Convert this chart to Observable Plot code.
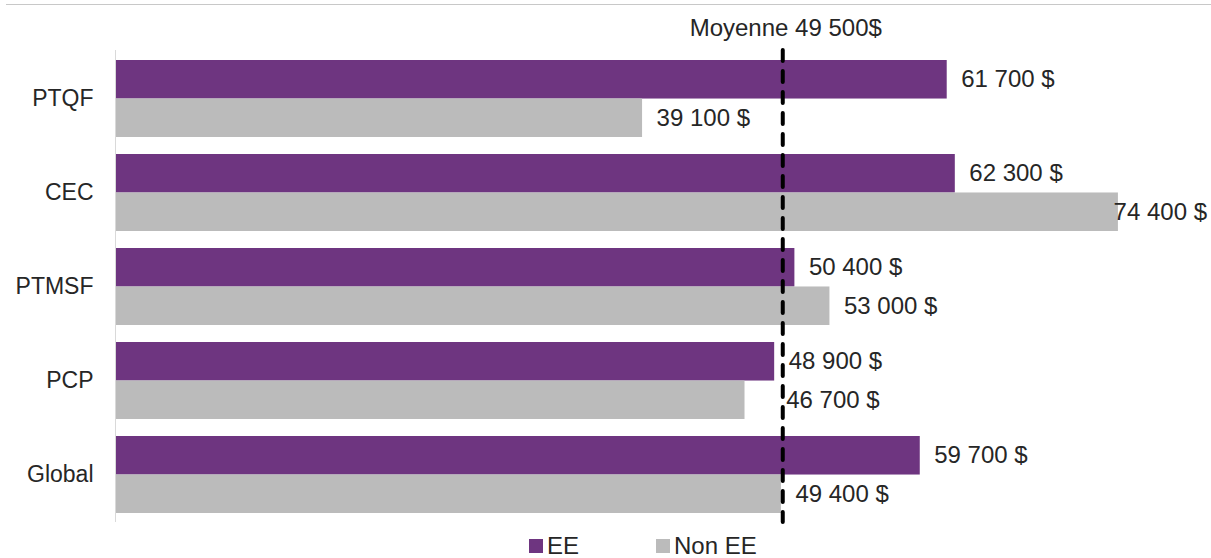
<!DOCTYPE html>
<html>
<head>
<meta charset="utf-8">
<script src="https://cdn.jsdelivr.net/npm/d3@7"></script>
<script src="https://cdn.jsdelivr.net/npm/@observablehq/plot@0.6"></script>
<style>
  html, body { margin: 0; padding: 0; background: #fff; }
  body { font-family: "Liberation Sans", Arial, sans-serif; color: #262626; }
  #wrap { position: relative; width: 1211px; height: 558px; overflow: hidden; }
  #topline { position: absolute; top: 4px; left: 6px; right: 0; height: 1px; background: #c8c8c8; z-index: 2; }
  #chart { position: absolute; top: 0; left: 0; z-index: 1; }
  #legend { position: absolute; top: 532px; left: 529px; display: flex; align-items: center; font-size: 24px; color: #262626; z-index: 2; }
  .item { display: flex; align-items: center; }
  .sw { width: 14px; height: 14px; margin-right: 4px; }
</style>
</head>
<body>
<div id="wrap">
  <div id="topline"></div>
  <div id="chart"></div>
  <div id="legend"></div>
</div>
<script>
// ---- data ----
const categories = ["PTQF", "CEC", "PTMSF", "PCP", "Global"];
const seriesNames = ["EE", "Non EE"];
const eeValues = [61700, 62300, 50400, 48900, 59700];
const nonEeValues = [39100, 74400, 53000, 46700, 49400];
const moyenne = 49500;
const moyenneLabel = "Moyenne 49 500$";
const colors = ["#6E3580", "#BBBBBB"];

// ---- layout ----
const W = 1211, H = 530, mTop = 50, mBottom = 8, mLeft = 115, mRight = 85;
const pInner = 0.185, pOuter = 0.0925;
const step = (H - mTop - mBottom) / (categories.length - pInner + 2 * pOuter);
const bw = step * (1 - pInner);
const half = bw / 2;

const fmt = v => d3.format(",")(v).replace(/,/g, " ") + " $";

const rows = [];
categories.forEach((c, i) => {
  rows.push({cat: c, series: seriesNames[0], value: eeValues[i]});
  rows.push({cat: c, series: seriesNames[1], value: nonEeValues[i]});
});
const eeRows = rows.filter(d => d.series === seriesNames[0]);
const neRows = rows.filter(d => d.series === seriesNames[1]);

const chart = Plot.plot({
  width: W, height: H,
  marginTop: mTop, marginBottom: mBottom, marginLeft: mLeft, marginRight: mRight,
  style: {fontFamily: "'Liberation Sans', Arial, sans-serif", fontSize: "24px", color: "#262626", background: "transparent"},
  x: {domain: [0, 75000], axis: null},
  y: {domain: categories, paddingInner: pInner, paddingOuter: pOuter, label: null},
  color: {domain: seriesNames, range: colors},
  marks: [
    Plot.barX(eeRows, {y: "cat", x: "value", fill: colors[0], insetBottom: half}),
    Plot.barX(neRows, {y: "cat", x: "value", fill: colors[1], insetTop: half}),
    Plot.ruleX([0], {stroke: "#d9d9d9", strokeWidth: 1}),
    Plot.axisY({tickSize: 0, tickPadding: 22, fontSize: 23, fill: "#262626", label: null}),
    Plot.text(eeRows, {y: "cat", x: "value", text: d => fmt(d.value), textAnchor: "start", dx: 14, dy: -half / 2, fontSize: 24, fill: "#262626", className: "bar-label"}),
    Plot.text(neRows, {y: "cat", x: "value", text: d => fmt(d.value), textAnchor: "start", dx: 14, dy: half / 2, fontSize: 24, fill: "#262626", className: "bar-label"}),
    Plot.ruleX([moyenne], {stroke: "black", strokeWidth: 4, strokeDasharray: "11,10", strokeLinecap: "round"}),
    Plot.text([moyenne], {x: d => d, text: () => moyenneLabel, frameAnchor: "top", lineAnchor: "middle", dy: -22, dx: 3, fontSize: 24, fill: "#262626"})
  ]
});
document.getElementById("chart").appendChild(chart);

// keep bar labels clear of the mean line and inside the chart (as the original does)
const xs = chart.scale("x");
const lineX = xs.apply(moyenne);
const svgRect = chart.getBoundingClientRect();
chart.querySelectorAll(".bar-label text").forEach(t => {
  const r = t.getBoundingClientRect();
  const left = r.left - svgRect.left, right = r.right - svgRect.left;
  let shift = 0;
  if (left < lineX + 2 && right > lineX - 2) shift = lineX + 4 - left;
  if (right + shift > W - 4) shift = W - 4 - right;
  if (shift) t.setAttribute("dx", shift);
});

// legend
const legend = document.getElementById("legend");
seriesNames.forEach((s, i) => {
  const item = document.createElement("div");
  item.className = "item";
  if (i > 0) item.style.marginLeft = "77px";
  const sw = document.createElement("div");
  sw.className = "sw";
  sw.style.background = colors[i];
  const lab = document.createElement("span");
  lab.textContent = s;
  item.appendChild(sw);
  item.appendChild(lab);
  legend.appendChild(item);
});
</script>
</body>
</html>
